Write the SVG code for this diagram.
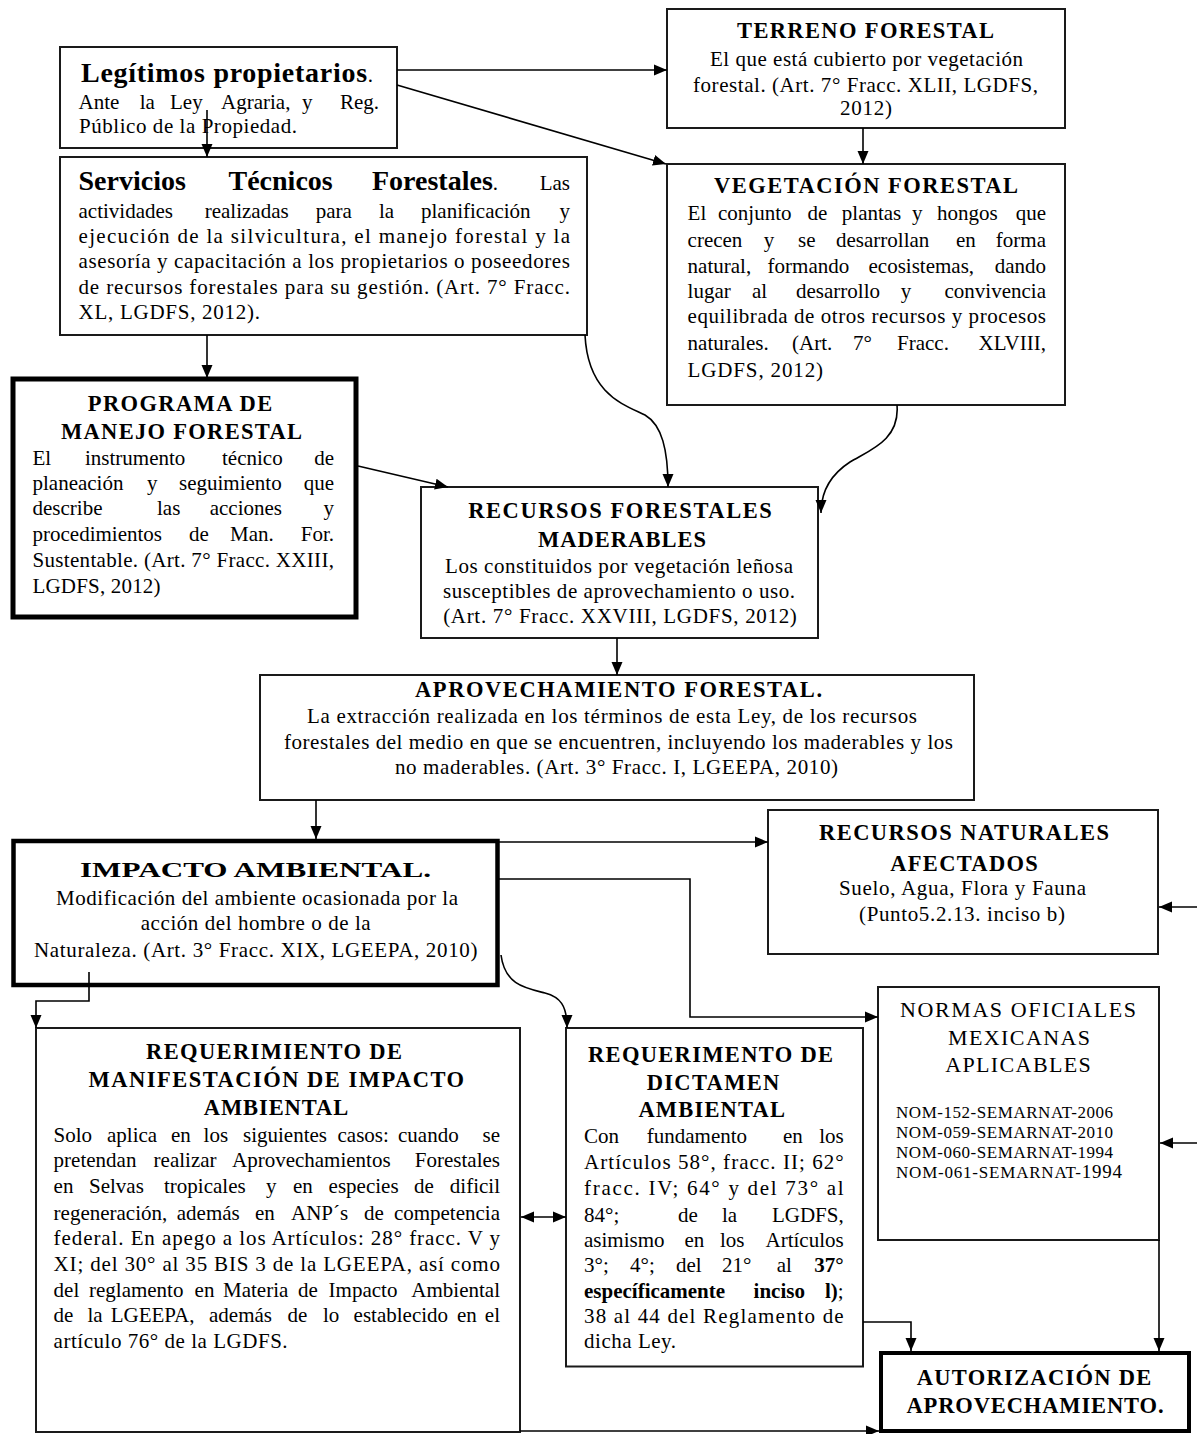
<svg xmlns="http://www.w3.org/2000/svg" width="1197" height="1434" viewBox="0 0 1197 1434">
<style>
text{font-family:"Liberation Serif","Times New Roman",serif;font-size:21px;fill:#000}
.box{fill:#fff;stroke:#1a1a1a;stroke-width:2}
.thick{fill:#fff;stroke:#000}
.t{font-weight:bold;font-size:22.5px;text-anchor:middle}
.tn{font-size:22px;text-anchor:middle}
.h{font-weight:bold;font-size:28px}
.bd{font-weight:bold}
.c{text-anchor:middle}
.e{text-anchor:end}
.nom{font-size:17px}
.link{fill:none;stroke:#000;stroke-width:1.6;marker-end:url(#ah)}
</style>
<defs>
<marker id="ah" markerUnits="userSpaceOnUse" markerWidth="14" markerHeight="12" refX="13" refY="6" orient="auto-start-reverse">
<path d="M0,0.5 L13,6 L0,11.5 z" fill="#000"/>
</marker>
</defs>
<rect x="0" y="0" width="1197" height="1434" fill="#fff"/>

<g id="legitimos">
<rect class="box" x="60" y="47" width="337" height="101"/>
<text x="81" y="82" textLength="292"><tspan class="h">Legítimos propietarios</tspan>.</text>
<text y="109"><tspan x="78.5">Ante</tspan><tspan x="139.7">la</tspan><tspan x="170">Ley</tspan><tspan x="221">Agraria,</tspan><tspan x="302">y</tspan><tspan x="379" class="e">Reg.</tspan></text>
<text x="79" y="133" textLength="218">Público de la Propiedad.</text>
</g>

<g id="servicios">
<rect class="box" x="60" y="157" width="527" height="178"/>
<text y="190"><tspan x="78.5" class="h">Servicios</tspan><tspan x="228.5" class="h">Técnicos</tspan><tspan x="372"><tspan class="h">Forestales</tspan>.</tspan><tspan x="570" class="e">Las</tspan></text>
<text y="218"><tspan x="78.5">actividades</tspan><tspan x="204.7">realizadas</tspan><tspan x="315.7">para</tspan><tspan x="379">la</tspan><tspan x="421">planificación</tspan><tspan x="570" class="e">y</tspan></text>
<text x="78.5" y="243" textLength="491.5">ejecución de la silvicultura, el manejo forestal y la</text>
<text x="78.5" y="268" textLength="491.5">asesoría y capacitación a los propietarios o poseedores</text>
<text x="78.5" y="294" textLength="491.5">de recursos forestales para su gestión. (Art. 7° Fracc.</text>
<text x="78.5" y="319" textLength="181.5">XL, LGDFS, 2012).</text>
</g>

<g id="terreno">
<rect class="box" x="667" y="9" width="398" height="119"/>
<text class="t" x="865.5" y="38" textLength="257">TERRENO FORESTAL</text>
<text class="c" x="866.5" y="66" textLength="313">El que está cubierto por vegetación</text>
<text class="c" x="865.5" y="92" textLength="345">forestal. (Art. 7° Fracc. XLII, LGDFS,</text>
<text class="c" x="866" y="115" textLength="52">2012)</text>
</g>

<g id="vegetacion">
<rect class="box" x="667" y="164" width="398" height="241"/>
<text class="t" x="866" y="193" textLength="304">VEGETACIÓN FORESTAL</text>
<text y="220"><tspan x="687.6">El</tspan><tspan x="718">conjunto</tspan><tspan x="807.5">de</tspan><tspan x="841.8">plantas</tspan><tspan x="912">y</tspan><tspan x="937">hongos</tspan><tspan x="1046" class="e">que</tspan></text>
<text y="247"><tspan x="687.6">crecen</tspan><tspan x="763.7">y</tspan><tspan x="798">se</tspan><tspan x="836">desarrollan</tspan><tspan x="956">en</tspan><tspan x="1046" class="e">forma</tspan></text>
<text y="273"><tspan x="687.6">natural,</tspan><tspan x="767.6">formando</tspan><tspan x="868.5">ecosistemas,</tspan><tspan x="1046" class="e">dando</tspan></text>
<text y="298"><tspan x="687.6">lugar</tspan><tspan x="752">al</tspan><tspan x="796">desarrollo</tspan><tspan x="900.8">y</tspan><tspan x="1046" class="e">convivencia</tspan></text>
<text x="687.6" y="323" textLength="358.4">equilibrada de otros recursos y procesos</text>
<text y="350"><tspan x="687.6">naturales.</tspan><tspan x="792">(Art.</tspan><tspan x="853">7°</tspan><tspan x="897">Fracc.</tspan><tspan x="1046" class="e">XLVIII,</tspan></text>
<text x="687.6" y="377" textLength="135.4">LGDFS, 2012)</text>
</g>

<g id="programa">
<rect class="thick" stroke-width="5" x="13" y="379" width="343" height="238"/>
<text class="t" x="180" y="411" textLength="184.5">PROGRAMA DE</text>
<text class="t" x="181.5" y="439" textLength="241">MANEJO FORESTAL</text>
<text y="465"><tspan x="32.5">El</tspan><tspan x="85">instrumento</tspan><tspan x="222">técnico</tspan><tspan x="334" class="e">de</tspan></text>
<text y="490"><tspan x="32.5">planeación</tspan><tspan x="147">y</tspan><tspan x="179">seguimiento</tspan><tspan x="334" class="e">que</tspan></text>
<text y="515"><tspan x="32.5">describe</tspan><tspan x="157">las</tspan><tspan x="209.7">acciones</tspan><tspan x="334" class="e">y</tspan></text>
<text y="541"><tspan x="32.5">procedimientos</tspan><tspan x="189">de</tspan><tspan x="230">Man.</tspan><tspan x="334" class="e">For.</tspan></text>
<text x="32.5" y="566.5" textLength="301.5">Sustentable. (Art. 7° Fracc. XXIII,</text>
<text x="32.5" y="592.5" textLength="128">LGDFS, 2012)</text>
</g>

<g id="recursos-maderables">
<rect class="box" x="421" y="487" width="397" height="151"/>
<text class="t" x="620" y="518" textLength="303.7">RECURSOS FORESTALES</text>
<text class="t" x="622" y="546.5" textLength="168">MADERABLES</text>
<text class="c" x="619" y="572.5" textLength="348">Los constituidos por vegetación leñosa</text>
<text class="c" x="619" y="598" textLength="352">susceptibles de aprovechamiento o uso.</text>
<text class="c" x="620" y="623" textLength="353.7">(Art. 7° Fracc. XXVIII, LGDFS, 2012)</text>
</g>

<g id="aprovechamiento">
<rect class="box" x="260" y="675" width="714" height="125"/>
<text class="t" x="618.5" y="697" textLength="407">APROVECHAMIENTO FORESTAL.</text>
<text class="c" x="612" y="723" textLength="610">La extracción realizada en los términos de esta Ley, de los recursos</text>
<text class="c" x="618.5" y="748.5" textLength="669">forestales del medio en que se encuentren, incluyendo los maderables y los</text>
<text class="c" x="616.5" y="774" textLength="443">no maderables. (Art. 3° Fracc. I, LGEEPA, 2010)</text>
</g>

<g id="impacto">
<rect class="thick" stroke-width="4.5" x="13.5" y="841" width="484" height="144"/>
<text class="c bd" x="255.5" y="877" font-size="32" textLength="351" lengthAdjust="spacingAndGlyphs">IMPACTO AMBIENTAL.</text>
<text class="c" x="257" y="905" textLength="402">Modificación del ambiente ocasionada por la</text>
<text class="c" x="255.7" y="930" textLength="230">acción del hombre o de la</text>
<text class="c" x="255.7" y="956.5" textLength="443.5">Naturaleza. (Art. 3° Fracc. XIX, LGEEPA, 2010)</text>
</g>

<g id="recursos-naturales">
<rect class="box" x="768" y="810" width="390" height="144"/>
<text class="t" x="964" y="840" textLength="290">RECURSOS NATURALES</text>
<text class="t" x="964" y="870.5" textLength="147.7">AFECTADOS</text>
<text class="c" x="962.5" y="895" textLength="247">Suelo, Agua, Flora y Fauna</text>
<text class="c" x="962" y="920.5" textLength="206">(Punto5.2.13. inciso b)</text>
</g>

<g id="normas">
<rect class="box" x="878" y="987" width="281" height="253"/>
<text class="tn" x="1018" y="1016.5" textLength="236">NORMAS OFICIALES</text>
<text class="tn" x="1019" y="1045" textLength="142">MEXICANAS</text>
<text class="tn" x="1018" y="1071.5" textLength="145.7">APLICABLES</text>
<text class="nom" x="896" y="1118" textLength="217">NOM-152-SEMARNAT-2006</text>
<text class="nom" x="896" y="1138" textLength="217">NOM-059-SEMARNAT-2010</text>
<text class="nom" x="896" y="1158" textLength="217">NOM-060-SEMARNAT-1994</text>
<text class="nom" x="896" y="1178" textLength="226">NOM-061-SEMARNAT-<tspan font-size="19">1994</tspan></text>
</g>

<g id="req-mia">
<rect class="box" x="36" y="1028" width="484" height="404"/>
<text class="t" x="274" y="1059" textLength="256">REQUERIMIENTO DE</text>
<text class="t" x="276.3" y="1086.5" textLength="375.4">MANIFESTACIÓN DE IMPACTO</text>
<text class="t" x="276" y="1115" textLength="144.4">AMBIENTAL</text>
<text y="1141.5"><tspan x="53.6">Solo</tspan><tspan x="107">aplica</tspan><tspan x="171">en</tspan><tspan x="203.6">los</tspan><tspan x="243">siguientes</tspan><tspan x="337.5">casos:</tspan><tspan x="398">cuando</tspan><tspan x="500" class="e">se</tspan></text>
<text y="1167"><tspan x="53.6">pretendan</tspan><tspan x="153.6">realizar</tspan><tspan x="232">Aprovechamientos</tspan><tspan x="500" class="e">Forestales</tspan></text>
<text y="1193"><tspan x="53.6">en</tspan><tspan x="89">Selvas</tspan><tspan x="164">tropicales</tspan><tspan x="266">y</tspan><tspan x="293">en</tspan><tspan x="328.6">especies</tspan><tspan x="414">de</tspan><tspan x="500" class="e">dificil</tspan></text>
<text y="1219.5"><tspan x="53.6">regeneración,</tspan><tspan x="176.8">además</tspan><tspan x="255">en</tspan><tspan x="291">ANP´s</tspan><tspan x="364">de</tspan><tspan x="500" class="e">competencia</tspan></text>
<text x="53.6" y="1245" textLength="446.4">federal. En apego a los Artículos: 28° fracc. V y</text>
<text x="53.6" y="1270.5" textLength="446.4">XI; del 30° al 35 BIS 3 de la LGEEPA, así como</text>
<text y="1296.5"><tspan x="53.6">del</tspan><tspan x="89">reglamento</tspan><tspan x="194.6">en</tspan><tspan x="223">Materia</tspan><tspan x="298">de</tspan><tspan x="328.6">Impacto</tspan><tspan x="500" class="e">Ambiental</tspan></text>
<text y="1321.5"><tspan x="53.6">de</tspan><tspan x="87.5">la</tspan><tspan x="110.7">LGEEPA,</tspan><tspan x="209">además</tspan><tspan x="287.5">de</tspan><tspan x="323">lo</tspan><tspan x="353.6">establecido</tspan><tspan x="457">en</tspan><tspan x="500" class="e">el</tspan></text>
<text x="53.6" y="1348" textLength="234">artículo 76° de la LGDFS.</text>
</g>

<g id="req-dictamen">
<rect class="box" x="566" y="1028" width="297" height="338.5"/>
<text class="t" x="710.5" y="1061.5" textLength="245">REQUERIMENTO DE</text>
<text class="t" x="713" y="1090" textLength="132.6">DICTAMEN</text>
<text class="t" x="711.7" y="1116.5" textLength="146.5">AMBIENTAL</text>
<text y="1143"><tspan x="584">Con</tspan><tspan x="646.8">fundamento</tspan><tspan x="783">en</tspan><tspan x="843.7" class="e">los</tspan></text>
<text x="584" y="1168.5" textLength="259.7">Artículos 58°, fracc. II; 62°</text>
<text x="584" y="1195" textLength="259.7">fracc. IV; 64° y del 73° al</text>
<text y="1221.5"><tspan x="584">84°;</tspan><tspan x="678">de</tspan><tspan x="722">la</tspan><tspan x="843.7" class="e">LGDFS,</tspan></text>
<text y="1246.5"><tspan x="584">asimismo</tspan><tspan x="684.5">en</tspan><tspan x="720">los</tspan><tspan x="843.7" class="e">Artículos</tspan></text>
<text y="1272"><tspan x="584">3°;</tspan><tspan x="630">4°;</tspan><tspan x="676">del</tspan><tspan x="722">21°</tspan><tspan x="776.7">al</tspan><tspan x="843.7" class="e bd">37°</tspan></text>
<text y="1298"><tspan x="584" class="bd">específicamente</tspan><tspan x="753.6" class="bd">inciso</tspan><tspan x="843.7" class="e"><tspan class="bd">l)</tspan>;</tspan></text>
<text x="584" y="1323" textLength="259.7">38 al 44 del Reglamento de</text>
<text x="584" y="1348" textLength="92">dicha Ley.</text>
</g>

<g id="autorizacion">
<rect class="thick" stroke-width="4" x="881" y="1353" width="308" height="78"/>
<text class="t" x="1034" y="1385" textLength="234.6">AUTORIZACIÓN DE</text>
<text class="t" x="1035" y="1413" textLength="257">APROVECHAMIENTO.</text>
</g>

<g id="connectors">
<path class="link" d="M207,110 L207,157"/>
<path class="link" d="M397,70 L667,70"/>
<path class="link" d="M397,85 L666,164"/>
<path class="link" d="M863,128 L863,164"/>
<path class="link" d="M207,335 L207,378"/>
<path class="link" d="M585,335 C588,395 625,405 645,415 C662,425 668,450 668,487"/>
<path class="link" d="M897,405 C900,440 870,450 850,462 C830,475 821,492 821,513"/>
<path class="link" d="M358,466 L448,487"/>
<path class="link" d="M617,638 L617,675"/>
<path class="link" d="M316,800 L316,839"/>
<path class="link" d="M499,842 L768,842"/>
<path class="link" d="M499,879 L690,879 L690,1017 L878,1017"/>
<path class="link" d="M89,972 L89,1001 L36,1001 L36,1028"/>
<path class="link" d="M501,955 C505,985 525,988 545,993 C560,997 567,1005 567,1028"/>
<path class="link" marker-start="url(#ah)" d="M521,1217 L566,1217"/>
<path class="link" d="M863,1322 L911,1322 L911,1351"/>
<path class="link" d="M1159,1240 L1159,1351"/>
<path class="link" d="M520,1431 L879,1431"/>
<path class="link" d="M1197,907 L1159,907"/>
<path class="link" d="M1197,1143 L1160,1143"/>
</g>
</svg>
